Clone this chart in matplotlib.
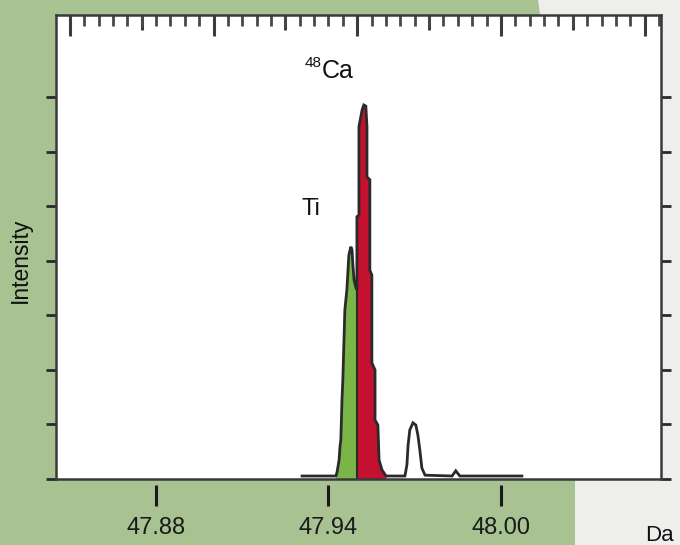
import numpy as np
import matplotlib.pyplot as plt
from matplotlib.patches import Polygon

# -------------------------------
# data
# -------------------------------

# spectrum outline: mass (Da) and intensity
mass = [47.9308, 47.9426, 47.9430, 47.9437, 47.9440, 47.9443, 47.9447, 47.9450,
        47.9454, 47.9457, 47.9464, 47.9468, 47.9471, 47.9478, 47.9482, 47.9485,
        47.9489, 47.9496, 47.9499,
        47.9499, 47.9506, 47.9506, 47.9517, 47.9523, 47.9530, 47.9534, 47.9534,
        47.9544, 47.9544, 47.9551, 47.9551, 47.9562, 47.9562, 47.9572, 47.9576,
        47.9586, 47.9600,
        47.9666, 47.9673, 47.9677, 47.9683, 47.9694, 47.9704, 47.9711, 47.9718,
        47.9725, 47.9736, 47.9830, 47.9843, 47.9857, 48.0073]
intensity = [0.055, 0.055, 0.13, 0.35, 0.59, 0.72, 1.45, 1.82,
             2.55, 3.10, 3.47, 3.83, 4.11, 4.26, 4.20, 3.93,
             3.65, 3.50, 3.47,
             4.81, 4.84, 6.46, 6.77, 6.86, 6.84, 6.46, 5.54,
             5.49, 3.83, 3.74, 2.13, 2.00, 1.08, 0.99, 0.35,
             0.17, 0.055,
             0.055, 0.26, 0.62, 0.90, 1.03, 0.99, 0.81, 0.53,
             0.20, 0.07, 0.055, 0.15, 0.055, 0.055]

TI_START, TI_END = 1, 18     # index range of the Ti (green) part
CA_END = 36                  # last index of the 48Ca (red) part

x_ticks = [47.88, 47.94, 48.00]
x_labels = ["47.88", "47.94", "48.00"]

GREEN_BG = "#a9c292"
TI_GREEN = "#79b547"
CA_RED = "#c3112f"
LINE = "#2a2a2a"

plt.rcParams['font.family'] = ['Liberation Sans', 'DejaVu Sans']

W, H = 680, 545
fig = plt.figure(figsize=(W / 100, H / 100), dpi=100)
fig.patch.set_facecolor(GREEN_BG)

# light area on the right side of the slide
pts = [(538, 0), (680, 0), (680, 545), (575, 545), (575, 470), (568, 300), (555, 120)]
bg = Polygon([(px / W, 1 - py / H) for px, py in pts], closed=True,
             transform=fig.transFigure, facecolor="#eeeeec", edgecolor="none", zorder=-1)
fig.patches.append(bg)

L, R, T, B = 56, 661, 15, 479
ax = fig.add_axes([L / W, 1 - B / H, (R - L) / W, (B - T) / H])
ax.set_facecolor("white")

x = np.array(mass)
y = np.array(intensity)
ax.fill_between(x[TI_START:TI_END + 1], 0, y[TI_START:TI_END + 1], color=TI_GREEN, linewidth=0)
ax.fill_between(x[TI_END:CA_END + 1], 0, y[TI_END:CA_END + 1], color=CA_RED, linewidth=0)
ax.plot(x, y, color=LINE, linewidth=2, solid_joinstyle="miter")
ax.plot([x[TI_END], x[TI_END]], [0, y[TI_END]], color=LINE, linewidth=1.5)

ax.set_xlim(47.8452, 48.0557)
ax.set_ylim(0, 8.51)

# top: inward ticks, no labels
ax.xaxis.set_ticks_position("top")
ax.set_xticks(np.arange(47.85, 48.056, 0.05))
ax.set_xticks(np.arange(47.85, 48.056, 0.005), minor=True)
ax.tick_params(axis="x", which="major", direction="in", length=15, width=2.2,
               colors="#3c3c3c", labeltop=False)
ax.tick_params(axis="x", which="minor", direction="in", length=8, width=2.0,
               colors="#484848")
mid = ax.secondary_xaxis("top")
mid.spines["top"].set_visible(False)
mid.set_xticks(np.arange(47.875, 48.056, 0.05))
mid.tick_params(axis="x", direction="in", length=11, width=2.2, colors="#3c3c3c",
                labeltop=False)

# y ticks both sides, outward, no labels
ax.set_yticks(range(0, 8))
ax.yaxis.set_ticks_position("both")
ax.tick_params(axis="y", direction="out", length=7, width=2, colors="#2a2a2a",
               labelleft=False, labelright=False)

for s in ax.spines.values():
    s.set_color("#3a3a3a")
    s.set_linewidth(1.8)

# bottom: detached ticks with labels
sec = ax.secondary_xaxis(-6 / (B - T))
sec.spines["bottom"].set_visible(False)
sec.set_xticks(x_ticks)
sec.set_xticklabels(x_labels)
sec.tick_params(axis="x", direction="out", length=15, width=2.2, colors="#1a1a1a",
                labelsize=17, pad=8)


def ftext(px, py, s, **kw):
    fig.text(px / W, 1 - py / H, s, color="#111111", **kw)


ftext(305, 67, "48", fontsize=11, ha="left", va="baseline")
ftext(322, 78, "Ca", fontsize=18, ha="left", va="baseline")
ftext(302, 215, "Ti", fontsize=17, ha="left", va="baseline")
ftext(20, 260, "Intensity", rotation=90, fontsize=16.5, ha="center", va="center")
ftext(645, 541, "Da", fontsize=16, ha="left", va="baseline")

fig.savefig("out.png", dpi=100, facecolor=fig.get_facecolor())
